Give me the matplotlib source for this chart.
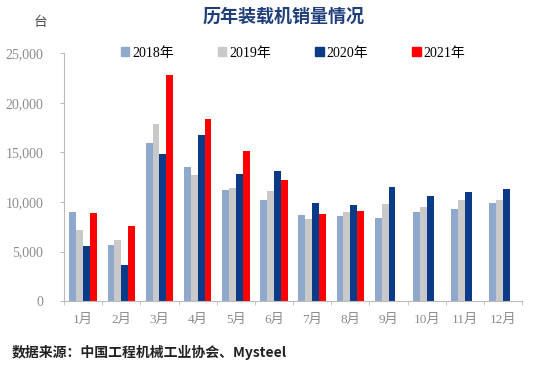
import numpy as np
import matplotlib
matplotlib.use("Agg")
import matplotlib.pyplot as plt
from matplotlib.patches import Patch

months = ["1月", "2月", "3月", "4月", "5月", "6月", "7月", "8月", "9月", "10月", "11月", "12月"]
years = ["2018年", "2019年", "2020年", "2021年"]
sales_2018 = [9020, 5650, 15900, 13570, 11190, 10200, 8720, 8620, 8350, 8990, 9260, 9860]
sales_2019 = [7180, 6180, 17900, 12700, 11360, 11120, 8290, 9020, 9820, 9520, 10160, 10190]
sales_2020 = [5510, 3600, 14870, 16700, 12800, 13100, 9920, 9660, 11460, 10560, 10960, 11260]
sales_2021 = [8920, 7620, 22800, 18400, 15170, 12200, 8760, 9060]
colors = ["#8FA8CC", "#C9C9C9", "#0B3A88", "#FF0000"]

serif = ["Liberation Serif", "Noto Sans CJK SC"]
cjk = ["Noto Sans CJK SC", "DejaVu Sans"]
grey = "#8C8C8C"

fig = plt.figure(figsize=(5.5, 3.69), dpi=100)
ax = fig.add_axes([0.1164, 0.184, 0.833, 0.672])

x = np.arange(len(months))
w = 0.18
series = [sales_2018, sales_2019, sales_2020, sales_2021]
for i, vals in enumerate(series):
    xs = x[:len(vals)] + (i - 1.5) * w
    ax.bar(xs, vals, w, color=colors[i], linewidth=0)

ax.set_xlim(-0.5, len(months) - 0.5)
ax.set_ylim(0, 25000)
ax.set_yticks(range(0, 25001, 5000))
ax.set_yticklabels([f"{v:,}" for v in range(0, 25001, 5000)], family=serif, color=grey, fontsize=10)
ax.set_xticks(x)
ax.set_xticklabels(months, family=serif, color=grey, fontsize=9.5)
ax.set_xticks(np.arange(-0.5, len(months)), minor=True)
ax.tick_params(axis="x", which="major", length=0, pad=9)
ax.tick_params(axis="x", which="minor", length=3, color="#BBBBBB")
ax.tick_params(axis="y", length=3, color="#BBBBBB", pad=12)
for s in ("top", "right"):
    ax.spines[s].set_visible(False)
for s in ("left", "bottom"):
    ax.spines[s].set_color("#BBBBBB")

handles = [Patch(color=c, label=y) for c, y in zip(colors, years)]
leg = ax.legend(handles=handles, ncol=4, loc="center", bbox_to_anchor=(0.5, 1.0),
                frameon=False, handlelength=0.6, handleheight=0.6, handletextpad=0.2,
                columnspacing=3.2, prop={"family": serif, "size": 10})

fig.text(0.515, 0.955, "历年装载机销量情况", family=cjk, fontsize=13, fontweight="bold",
         color="#1F3F7A", ha="center", va="center")
fig.text(0.073, 0.94, "台", family=cjk, fontsize=10, color="#555555", ha="center", va="center")
fig.text(0.022, 0.045, "数据来源：中国工程机械工业协会、Mysteel", family=cjk, fontsize=10,
         fontweight="bold", color="#222222", ha="left", va="center")

fig.savefig("out.png", dpi=100)
